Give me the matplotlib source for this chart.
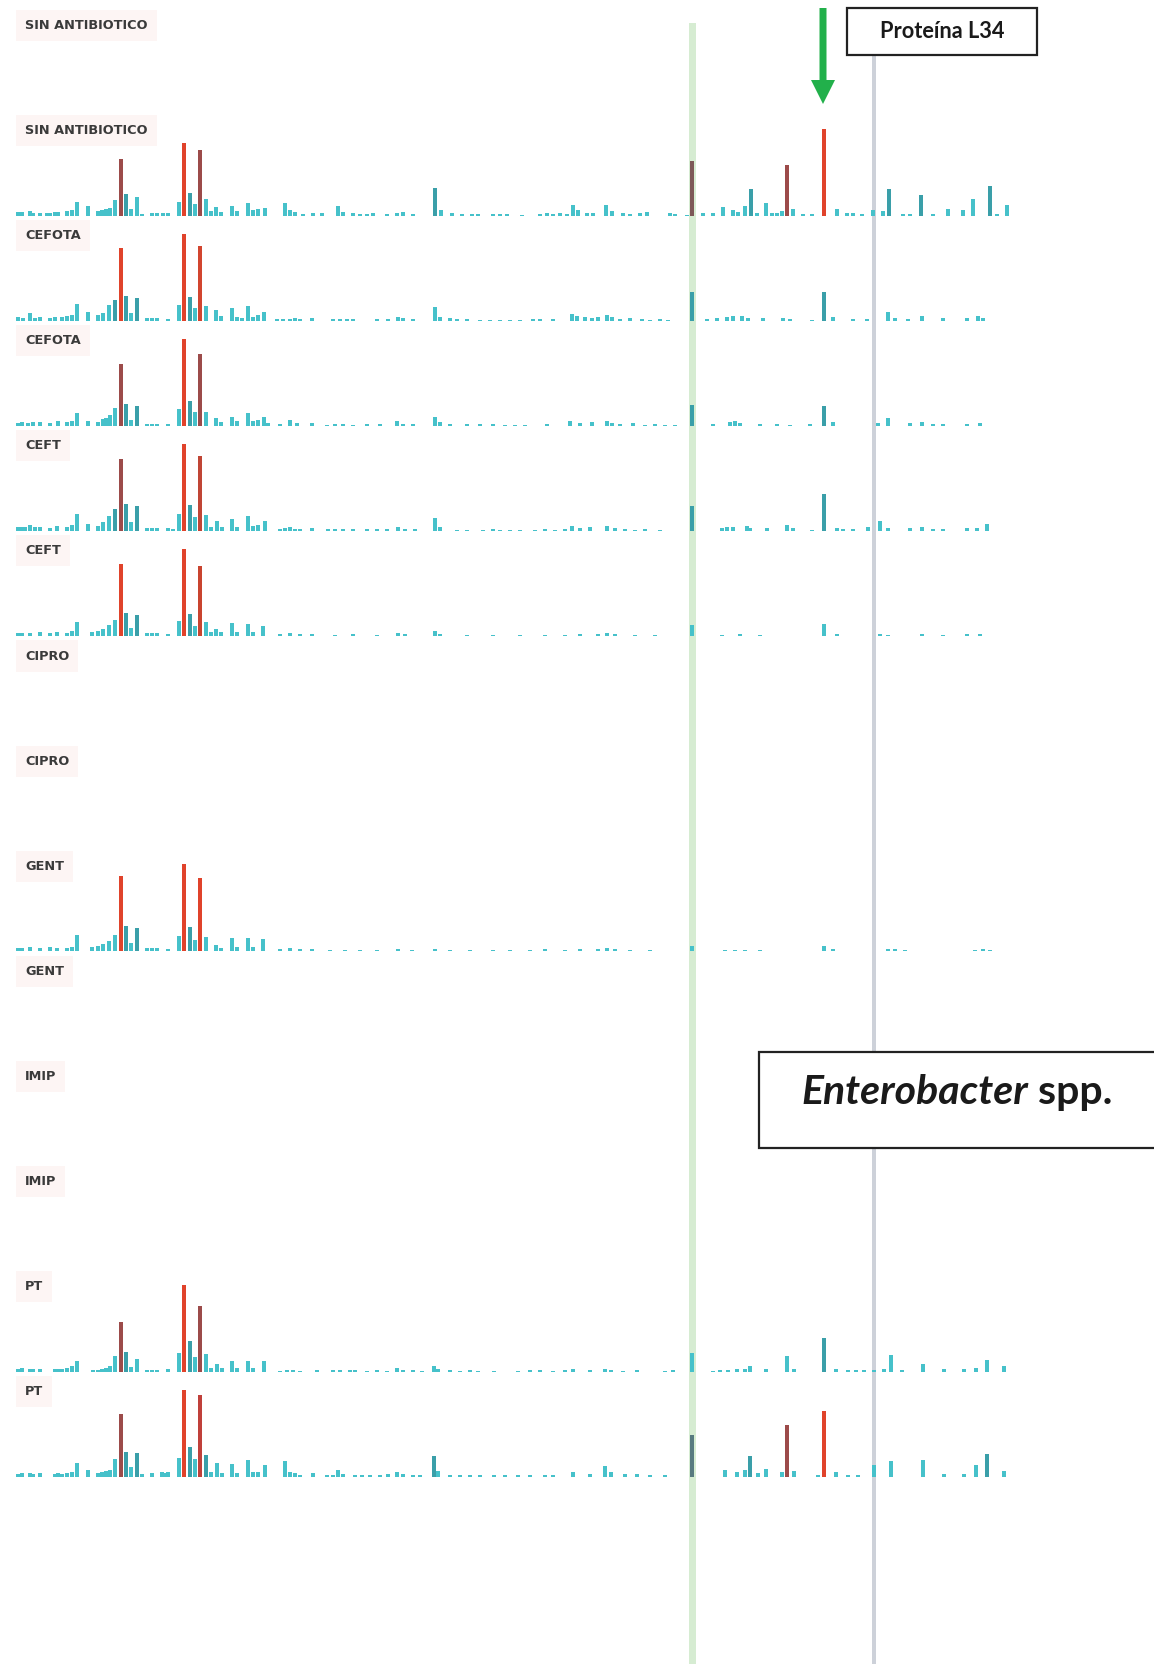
import matplotlib.pyplot as plt
from matplotlib.patches import Rectangle, Polygon

W, H = 1154, 1664

etiquetas = ["SIN ANTIBIOTICO", "SIN ANTIBIOTICO", "CEFOTA", "CEFOTA", "CEFT", "CEFT",
             "CIPRO", "CIPRO", "GENT", "GENT", "IMIP", "IMIP", "PT", "PT"]

# (posicion, intensidad) de cada pico del espectro
sin_ab_2 = [(18,4),(22,4),(30,5),(33,3),(40,3),(47,3),(50,3),(55,4),(58,4),(67,5),(72,6),(77,14),(88,10),
            (98,5),(102,6),(106,7),(110,8),(115,16),(121,57),(126,22),(131,7),(137,19),(142,2),(152,3),
            (157,3),(163,3),(168,3),(179,14),(184,73),(190,23),(195,12),(200,66),(206,17),(211,5),(216,9),
            (221,4),(232,10),(237,5),(248,13),(253,6),(258,7),(265,8),(285,13),(290,6),(295,4),(303,2),
            (313,3),(322,3),(338,10),(343,4),(353,3),(360,2),(367,2),(373,3),(387,2),(397,3),(403,4),
            (413,2),(435,28),(441,6),(452,3),(462,2),(472,2),(478,2),(493,2),(500,2),(507,2),(522,1),
            (540,2),(547,3),(553,2),(560,3),(567,2),(573,11),(578,6),(587,3),(593,3),(606,11),(612,5),
            (623,3),(630,2),(640,3),(647,4),(670,3),(675,2),(687,1),(692,55),(703,3),(713,3),(723,9),
            (733,6),(738,4),(745,10),(751,27),(757,3),(766,13),(772,3),(777,3),(782,5),(787,51),(793,7),
            (803,2),(812,2),(824,87),(837,7),(847,3),(853,3),(862,2),(873,6),(883,5),(889,27),(903,2),
            (910,2),(921,21),(933,2),(948,7),(963,6),(973,17),(990,30),(997,2),(1007,11)]

cefota_1 = [(18,4),(23,3),(30,8),(35,3),(40,4),(50,3),(55,4),(62,4),(67,5),(72,6),(77,17),(88,9),(98,6),
            (103,8),(109,16),(115,21),(121,73),(126,25),(131,8),(137,23),(147,3),(152,3),(157,3),(168,2),
            (179,16),(184,87),(190,24),(195,13),(200,75),(206,15),(216,11),(221,5),(232,13),(237,4),
            (242,3),(248,15),(253,4),(258,6),(264,9),(277,2),(283,2),(290,2),(295,3),(300,2),(312,3),
            (333,2),(340,2),(347,2),(353,2),(377,2),(388,2),(398,4),(403,3),(413,2),(435,14),(440,4),
            (450,3),(457,2),(467,2),(480,1),(490,1),(500,1),(510,1),(520,1),(533,2),(540,2),(553,2),
            (572,7),(577,5),(585,4),(592,3),(598,4),(607,6),(612,4),(620,2),(630,3),(642,2),(650,1),
            (660,2),(668,1),(692,29),(707,2),(717,3),(727,4),(733,5),(742,5),(748,3),(763,3),(783,3),
            (790,2),(812,1),(824,29),(833,4),(853,2),(867,2),(888,9),(895,3),(908,2),(922,5),(943,3),
            (967,3),(978,5),(983,3)]

cefota_2 = [(18,3),(22,4),(28,3),(33,4),(40,4),(50,3),(58,5),(67,4),(72,5),(77,13),(88,5),(98,4),(103,7),
            (106,8),(110,11),(115,18),(121,62),(126,22),(131,6),(137,20),(147,2),(152,2),(157,2),(168,2),
            (179,17),(184,87),(190,25),(195,14),(200,72),(206,14),(216,8),(221,4),(232,9),(237,5),(248,13),
            (253,5),(258,6),(264,9),(268,3),(280,2),(290,6),(297,3),(312,3),(327,1),(335,2),(343,2),
            (353,1),(367,2),(380,2),(397,5),(403,2),(413,2),(435,9),(440,4),(450,2),(467,2),(480,2),
            (493,2),(505,1),(515,1),(525,1),(547,2),(570,5),(580,3),(592,4),(607,5),(612,3),(620,2),
            (633,3),(645,1),(655,2),(665,1),(675,1),(692,21),(713,2),(730,4),(735,5),(740,3),(760,2),
            (777,2),(790,1),(810,2),(824,20),(833,4),(878,3),(888,8),(910,3),(922,4),(933,2),(943,2),
            (967,2),(980,3)]

ceft_1 = [(18,4),(22,4),(25,4),(30,6),(35,4),(40,4),(50,3),(57,5),(67,4),(72,6),(77,17),(88,7),(98,5),
          (103,9),(109,15),(115,22),(121,72),(126,27),(131,9),(137,25),(147,3),(152,3),(157,3),(168,3),
          (173,2),(179,17),(184,87),(190,26),(195,14),(200,75),(206,16),(211,4),(217,10),(222,4),(232,12),
          (237,4),(248,15),(253,5),(258,6),(265,10),(280,2),(285,3),(290,4),(295,2),(300,2),(312,3),
          (328,2),(335,2),(343,2),(353,2),(367,2),(377,2),(387,2),(398,4),(405,2),(415,2),(435,13),
          (440,4),(457,1),(467,1),(483,1),(493,2),(500,1),(510,1),(520,1),(535,1),(545,2),(555,1),
          (565,2),(572,5),(580,3),(590,4),(607,5),(615,3),(625,2),(635,1),(645,2),(660,1),(692,25),
          (722,3),(727,4),(733,4),(747,5),(750,3),(767,3),(787,6),(793,3),(812,1),(824,37),(837,3),
          (843,2),(853,2),(868,4),(880,10),(888,3),(910,3),(922,4),(933,2),(943,2),(967,3),(977,3),
          (987,7)]

ceft_2 = [(18,3),(22,3),(30,3),(40,4),(50,3),(57,4),(67,3),(72,5),(77,14),(92,4),(98,5),(103,7),(109,11),
          (115,16),(121,72),(126,23),(131,8),(137,21),(147,3),(152,3),(157,3),(168,2),(179,15),(184,87),
          (190,22),(195,10),(200,70),(206,14),(211,4),(216,7),(221,4),(232,13),(237,4),(248,12),(253,4),
          (263,10),(280,2),(290,3),(300,2),(312,2),(335,1),(353,2),(377,1),(398,3),(405,2),(435,5),
          (440,2),(467,1),(493,1),(520,1),(545,1),(565,1),(580,2),(598,2),(607,3),(615,2),(635,1),
          (655,1),(692,11),(722,1),(740,2),(760,1),(824,12),(837,2),(880,2),(888,1),(922,2),(943,1),
          (967,2),(980,2)]

gent_1 = [(18,3),(22,3),(30,4),(40,3),(50,4),(57,3),(67,3),(72,4),(77,16),(92,4),(98,5),(103,7),(109,10),
          (115,16),(121,75),(126,25),(131,8),(137,23),(147,3),(152,3),(157,3),(168,2),(179,15),(184,87),
          (190,24),(195,11),(200,73),(206,14),(216,6),(221,3),(232,13),(237,4),(248,13),(253,4),(263,12),
          (280,2),(290,3),(300,2),(312,2),(330,1),(345,1),(360,1),(377,1),(398,2),(412,1),(435,2),
          (450,1),(470,1),(493,1),(510,1),(530,1),(545,2),(565,1),(580,2),(598,2),(607,3),(615,2),
          (630,1),(650,1),(692,5),(725,1),(735,1),(745,1),(760,1),(824,5),(833,2),(888,2),(895,2),
          (905,1),(975,1),(983,2),(990,1)]

pt_1 = [(18,3),(22,4),(30,3),(33,3),(40,3),(55,3),(58,3),(62,3),(67,4),(72,6),(77,11),(93,2),(98,2),
        (102,3),(106,4),(110,6),(115,16),(121,50),(126,20),(131,5),(137,13),(147,2),(152,2),(157,2),
        (168,3),(179,19),(184,87),(190,31),(195,15),(200,66),(206,18),(211,4),(217,8),(222,4),(232,11),
        (237,4),(248,11),(253,4),(264,11),(280,1),(287,2),(293,2),(300,1),(317,2),(333,2),(340,2),
        (350,2),(355,2),(367,1),(377,2),(387,1),(397,4),(403,2),(413,2),(422,1),(434,6),(438,3),
        (450,2),(460,1),(470,2),(478,1),(494,1),(518,1),(530,2),(540,2),(553,1),(565,2),(573,3),
        (590,2),(605,3),(611,2),(623,1),(637,2),(665,1),(673,2),(692,19),(713,1),(720,2),(728,2),
        (737,3),(745,3),(750,6),(766,3),(787,16),(794,3),(824,34),(836,3),(848,2),(856,2),(864,2),
        (874,2),(884,3),(891,17),(902,2),(923,8),(944,3),(964,3),(976,4),(987,12),(1004,6)]

pt_2 = [(18,3),(22,4),(30,4),(33,3),(40,4),(55,3),(58,4),(62,3),(67,4),(72,5),(77,14),(88,7),(98,4),
        (102,5),(106,6),(110,7),(115,18),(121,63),(126,25),(131,10),(137,24),(142,3),(152,4),(162,5),
        (165,4),(168,5),(179,19),(184,87),(190,30),(195,18),(200,82),(206,22),(211,5),(217,14),(222,4),
        (232,13),(237,4),(248,17),(253,5),(258,5),(265,12),(285,16),(290,5),(295,4),(300,2),(313,4),
        (327,2),(333,2),(338,7),(343,3),(355,2),(362,2),(370,2),(380,2),(388,3),(397,5),(403,3),
        (413,2),(420,2),(434,21),(438,6),(450,2),(460,2),(470,2),(480,2),(494,2),(505,2),(518,2),
        (530,2),(545,2),(553,2),(573,5),(590,3),(605,11),(611,5),(625,3),(637,3),(650,2),(665,2),
        (692,42),(725,7),(737,5),(745,7),(750,21),(758,4),(766,8),(782,5),(787,52),(794,6),(818,2),
        (824,66),(836,5),(848,2),(858,2),(874,12),(891,16),(923,17),(944,3),(964,3),(976,12),(987,23),
        (1004,6)]

espectros = {1: sin_ab_2, 2: cefota_1, 3: cefota_2, 4: ceft_1, 5: ceft_2, 8: gent_1, 12: pt_1, 13: pt_2}

ROJO = "#e0432b"
GRANATE = "#9c4b4a"
CIAN = "#46c1ca"
TEAL = "#3a9fa9"

# picos marcados en cada fila
marcados = {
    1: {121: GRANATE, 184: ROJO, 200: GRANATE, 692: "#7d5858", 787: GRANATE, 824: ROJO},
    2: {121: ROJO, 184: ROJO, 200: "#d2452f"},
    3: {121: GRANATE, 184: ROJO, 200: GRANATE},
    4: {121: GRANATE, 184: ROJO, 200: "#c04535"},
    5: {121: ROJO, 184: ROJO, 200: "#c9442f"},
    8: {121: ROJO, 184: ROJO, 200: ROJO},
    12: {121: GRANATE, 184: ROJO, 200: GRANATE},
    13: {121: GRANATE, 184: ROJO, 200: "#c0403a", 692: "#587a80", 787: GRANATE, 824: ROJO},
}

fig = plt.figure(figsize=(W / 100, H / 100), dpi=100)

fondo = fig.add_axes([0, 0, 1, 1])
fondo.set_xlim(0, W)
fondo.set_ylim(H, 0)
fondo.axis("off")
fondo.add_patch(Rectangle((689, 23), 6.5, H - 23, color="#d6ecd2", lw=0))
fondo.add_patch(Rectangle((872, 55), 4, H - 55, color="#cdd1d9", lw=0))

for k, etiqueta in enumerate(etiquetas):
    base = 110.4 + 105.1 * k
    ax = fig.add_axes([0, 1 - base / H, 1, 100 / H])
    ax.set_xlim(0, W)
    ax.set_ylim(0, 100)
    ax.axis("off")
    ax.patch.set_alpha(0)
    ax.text(25, 85, etiqueta, fontsize=9.3, fontfamily="DejaVu Sans", fontweight="bold",
            color="#3a3a3a", va="center", ha="left",
            bbox=dict(boxstyle="square,pad=0.7", fc="#fdf5f4", ec="none"))
    if k in espectros:
        picos = espectros[k]
        xs = [p for p, _ in picos]
        ys = [v for _, v in picos]
        colores = []
        for p, v in picos:
            if p in marcados[k]:
                colores.append(marcados[k][p])
            elif v >= 20:
                colores.append(TEAL)
            else:
                colores.append(CIAN)
        ax.bar(xs, ys, width=4, color=colores, lw=0, zorder=2)

ov = fig.add_axes([0, 0, 1, 1])
ov.set_xlim(0, W)
ov.set_ylim(H, 0)
ov.axis("off")
ov.patch.set_alpha(0)

# flecha verde sobre el pico de la L34
ov.add_patch(Polygon([(819.5, 8), (826.5, 8), (826.5, 80), (835, 80), (823, 104), (811, 80), (819.5, 80)],
                     closed=True, color="#22b04b", lw=0))

ov.add_patch(Rectangle((847, 8), 190, 47, fc="white", ec="#222222", lw=1.6))
ov.text(942, 32, "Proteína L34", fontsize=15.7, fontfamily="Lato", fontweight="bold",
        color="#1a1a1a", ha="center", va="center")

ov.add_patch(Rectangle((759, 1052), 420, 96, fc="white", ec="#222222", lw=1.6))
t1 = ov.text(801, 1104, "Enterobacter", fontsize=29.5, fontfamily="Lato", fontweight="bold",
             fontstyle="italic", color="#1a1a1a", ha="left", va="baseline")
ov.annotate(" spp.", xy=(1, 0), xycoords=t1, fontsize=29.5, fontfamily="Lato", fontweight="bold",
            color="#1a1a1a", ha="left", va="bottom")

fig.savefig("out.png", dpi=100)
